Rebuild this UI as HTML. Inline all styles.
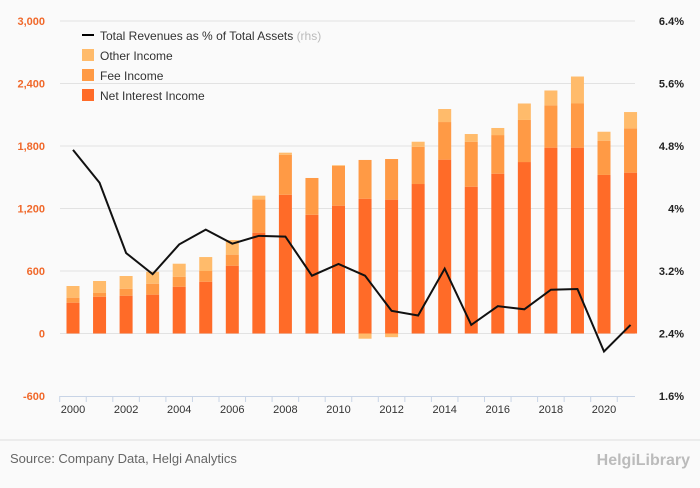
<!DOCTYPE html>
<html><head><meta charset="utf-8"><style>
body{margin:0;background:#fafafa;font-family:"Liberation Sans",sans-serif;}
svg text{font-family:"Liberation Sans",sans-serif;}
</style></head><body>
<svg width="700" height="483" viewBox="0 0 700 483">
<rect width="700" height="483" fill="#fafafa"/>
<g id="grid"></g><g id="bars"></g><g id="line"></g><g id="axes"></g>
<g>
<line x1="82" y1="35" x2="94" y2="35" stroke="#000" stroke-width="2"/>
<text x="100" y="40" font-size="12" fill="#333">Total Revenues as % of Total Assets <tspan fill="#bbb">(rhs)</tspan></text>
<rect x="82" y="49" width="12" height="12" fill="#ffbb6b"/>
<text x="100" y="60" font-size="12" fill="#333">Other Income</text>
<rect x="82" y="69" width="12" height="12" fill="#ff9a45"/>
<text x="100" y="80" font-size="12" fill="#333">Fee Income</text>
<rect x="82" y="89" width="12" height="12" fill="#ff6b28"/>
<text x="100" y="100" font-size="12" fill="#333">Net Interest Income</text>
</g>
<line x1="0" y1="440" x2="700" y2="440" stroke="#ddd"/>
<text x="10" y="463" font-size="13" fill="#666">Source: Company Data, Helgi Analytics</text>
<text x="690" y="465" font-size="16" fill="#bbb" text-anchor="end" font-weight="bold">HelgiLibrary</text>
</svg>
<script>
const years=[2000,2001,2002,2003,2004,2005,2006,2007,2008,2009,2010,2011,2012,2013,2014,2015,2016,2017,2018,2019,2020,2021];
const netInterest=[296,353,363,373,449,497,651,968,1332,1140,1227,1294,1285,1435,1669,1409,1534,1646,1784,1784,1522,1544];
const feeIncome=[48,36,67,105,96,103,106,320,384,353,381,372,390,358,361,432,371,404,406,424,329,426];
const otherIncome=[112,115,122,115,125,134,140,35,20,0,7,-50,-35,48,125,74,68,158,143,259,86,156];
const ratio=[4.75,4.33,3.43,3.16,3.54,3.73,3.55,3.65,3.64,3.14,3.29,3.14,2.69,2.63,3.23,2.51,2.75,2.71,2.96,2.97,2.17,2.51];
const leftTicks=[-600,0,600,1200,1800,2400,3000];
const rightTicks=["1.6%","2.4%","3.2%","4%","4.8%","5.6%","6.4%"];
const NS="http://www.w3.org/2000/svg";
const yL=v=>333.5-v*62.5/600;
const yR=p=>333.5-(p-2.4)*62.5/0.8;
const xS=i=>73+i*26.55;
function mk(t,a,p){const e=document.createElementNS(NS,t);for(const k in a)e.setAttribute(k,a[k]);document.getElementById(p).appendChild(e);return e;}
leftTicks.forEach((v,i)=>{
 if(v!==-600){const g=mk('line',{x1:60,x2:635,y1:yL(v),y2:yL(v),stroke:'#e2e2e2'},'grid');
 
 }
 const t=mk('text',{x:45,y:yL(v)+4,'font-size':11,fill:'#f0682a','text-anchor':'end','font-weight':'bold'},'axes');t.textContent=v.toLocaleString('en-US');
 
 
 const r=mk('text',{x:684,y:yL(v)+4,'font-size':11,fill:'#222','text-anchor':'end','font-weight':'bold'},'axes');r.textContent=rightTicks[i];
 
 
});
const ax=mk('line',{x1:60,x2:635,y1:396.5,y2:396.5,stroke:'#c8d4e6'},'axes');


years.forEach((y,i)=>{
 const tx=xS(i)-13.3;
 const tk=mk('line',{x1:tx,x2:tx,y1:396,y2:402,stroke:'#c8d4e6'},'axes');
 
 
 if(i%2===0){const t=mk('text',{x:xS(i),y:413,'font-size':11,fill:'#333','text-anchor':'middle'},'axes');t.textContent=y;
 
 }
 const w=13,x=xS(i)-w/2;
 const n=netInterest[i],f=feeIncome[i],o=otherIncome[i];
 const b1=mk('rect',{x:x,y:yL(n),width:w,height:yL(0)-yL(n),fill:'#ff6b28'},'bars');
 
 
 const b2=mk('rect',{x:x,y:yL(n+f),width:w,height:yL(n)-yL(n+f),fill:'#ff9a45'},'bars');
 
 
 let oy,oh;
 if(o>=0){oy=yL(n+f+o);oh=yL(n+f)-oy;}else{oy=yL(0);oh=yL(o)-yL(0);}
 const b3=mk('rect',{x:x,y:oy,width:w,height:oh,fill:'#ffbb6b'},'bars');
 
 
});
const pts=ratio.map((p,i)=>xS(i)+','+yR(p)).join(' ');
const pl=mk('polyline',{points:pts,fill:'none',stroke:'#111','stroke-width':2},'line');


</script>
</body></html>
